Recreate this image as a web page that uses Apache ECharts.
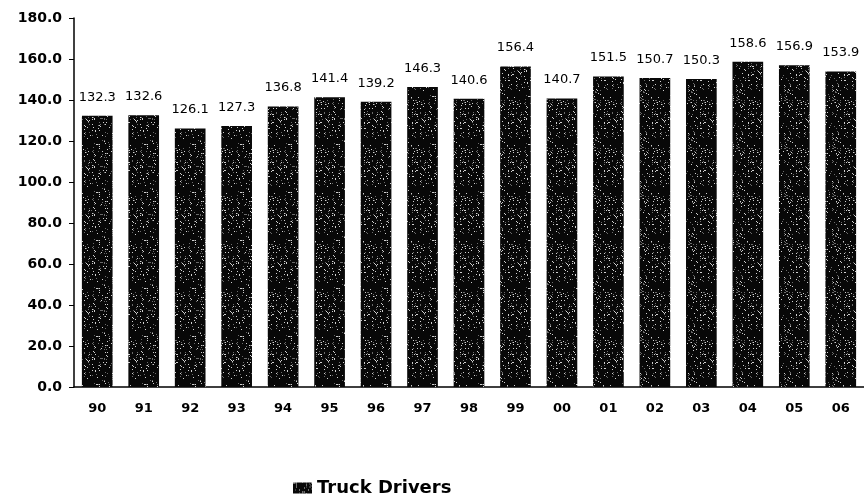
<!DOCTYPE html>
<html>
<head>
<meta charset="utf-8">
<script src="https://cdn.jsdelivr.net/npm/echarts@6/dist/echarts.min.js"></script>
<style>
  html, body { margin: 0; padding: 0; background: #fff; }
  #chart { width: 864px; height: 496px; }
</style>
</head>
<body>
<div id="chart"></div>
<script>
// Years (two-digit) and truck driver counts
const years = ['90','91','92','93','94','95','96','97','98','99','00','01','02','03','04','05','06'];
const truckDrivers = [132.3, 132.6, 126.1, 127.3, 136.8, 141.4, 139.2, 146.3, 140.6, 156.4, 140.7, 151.5, 150.7, 150.3, 158.6, 156.9, 153.9];
const yTicks = [0, 20, 40, 60, 80, 100, 120, 140, 160, 180];

// Speckled dark fill, built from a fixed hash so it looks the same every time
function speckle() {
  const size = 48;
  const c = document.createElement('canvas');
  c.width = size; c.height = size;
  const ctx = c.getContext('2d');
  ctx.fillStyle = '#080808';
  ctx.fillRect(0, 0, size, size);
  for (let y = 0; y < size; y++) {
    for (let x = 0; x < size; x++) {
      const h = ((x * 374761393 + y * 668265263) ^ (x * y * 2246822519)) >>> 0;
      const v = ((h ^ (h >>> 13)) * 1274126177 >>> 0) % 100;
      if (v < 6) {
        ctx.fillStyle = v < 2 ? '#d0d0d0' : '#6a6a6a';
        ctx.fillRect(x, y, 1, 1);
      }
    }
  }
  return c;
}

const chart = echarts.init(document.getElementById('chart'), null, { renderer: 'canvas' });
const font = '"DejaVu Sans", Verdana, sans-serif';

chart.setOption({
  animation: false,
  backgroundColor: '#ffffff',
  grid: { left: 74, top: 18, width: 792, height: 369, containLabel: false },
  legend: {
    data: ['Truck Drivers'],
    left: 288,
    top: 474,
    itemWidth: 19,
    itemHeight: 11,
    itemGap: 9,
    icon: 'rect',
    textStyle: { fontFamily: font, fontSize: 18, fontWeight: 'bold', color: '#000' }
  },
  xAxis: {
    type: 'category',
    data: years,
    boundaryGap: true,
    axisLine: { lineStyle: { color: '#000', width: 1.5 } },
    axisTick: { alignWithLabel: false, length: 5, lineStyle: { color: '#000' } },
    axisLabel: { fontFamily: font, fontSize: 13, fontWeight: 'bold', color: '#000', margin: 15 }
  },
  yAxis: {
    type: 'value',
    min: yTicks[0],
    max: yTicks[yTicks.length - 1],
    interval: yTicks[1] - yTicks[0],
    splitLine: { show: false },
    axisLine: { show: true, lineStyle: { color: '#000', width: 1.5 } },
    axisTick: { show: true, length: 5, lineStyle: { color: '#000' } },
    axisLabel: {
      fontFamily: font, fontSize: 14, fontWeight: 'bold', color: '#000', margin: 12,
      formatter: v => v.toFixed(1)
    }
  },
  series: [{
    name: 'Truck Drivers',
    type: 'bar',
    data: truckDrivers,
    barCategoryGap: '34%',
    itemStyle: { color: { image: speckle(), repeat: 'repeat' } },
    label: {
      show: true,
      position: 'top',
      distance: 12,
      fontFamily: font,
      fontSize: 13,
      color: '#000',
      formatter: p => p.value.toFixed(1)
    }
  }]
});
</script>
</body>
</html>
